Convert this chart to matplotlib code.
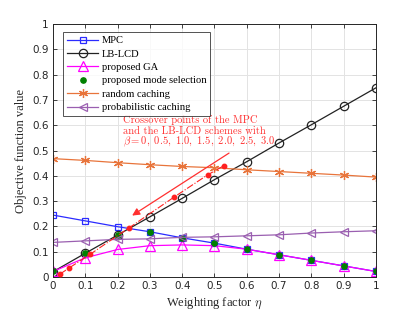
import numpy as np
import matplotlib
matplotlib.use("Agg")
import matplotlib.pyplot as plt

plt.rcParams["mathtext.fontset"] = "cm"

# -----------------------
# DATOS
# -----------------------
eta = [0, 0.1, 0.2, 0.3, 0.4, 0.5, 0.6, 0.7, 0.8, 0.9, 1.0]
mpc = [0.245, 0.222, 0.199, 0.179, 0.155, 0.134, 0.110, 0.088, 0.066, 0.044, 0.022]
lblcd = [0.021, 0.094, 0.166, 0.238, 0.311, 0.385, 0.456, 0.530, 0.602, 0.675, 0.748]
ga = [0.022, 0.076, 0.109, 0.124, 0.127, 0.124, 0.110, 0.088, 0.066, 0.044, 0.022]
modo = [0.022, 0.094, 0.166, 0.180, 0.155, 0.134, 0.110, 0.088, 0.066, 0.044, 0.022]
aleatorio = [0.468, 0.461, 0.452, 0.444, 0.437, 0.432, 0.424, 0.417, 0.410, 0.403, 0.395]
probabilistico = [0.137, 0.143, 0.149, 0.151, 0.157, 0.159, 0.163, 0.167, 0.174, 0.179, 0.183]

cruce_x = [0.022, 0.050, 0.115, 0.235, 0.376, 0.479, 0.529]
cruce_y = [0.012, 0.036, 0.090, 0.194, 0.317, 0.404, 0.440]

texto_cruce = ["Crossover points of the MPC", "and the LB-LCD schemes with"]
texto_beta = r"$\beta = 0,\ 0.5,\ 1.0,\ 1.5,\ 2.0,\ 2.5,\ 3.0$"

# -----------------------
# GRAFICO
# -----------------------
fig = plt.figure(figsize=(4.15, 3.12), dpi=100)
ax = fig.add_axes([0.1277, 0.112, 0.7783, 0.811])

ax.plot(eta, mpc, color="#2b2bff", lw=0.9, marker="s", ms=5, mfc="none", mew=0.9, label="MPC")
ax.plot(eta, lblcd, color="#222222", lw=0.9, marker="o", ms=6, mfc="none", mew=0.9, label="LB-LCD")
ax.plot(eta, ga, color="#ff00ff", lw=0.9, marker="^", ms=6.5, mfc="none", mew=0.9, label="proposed GA")
ax.plot(eta, modo, color="#008000", lw=0, marker="o", ms=3.8, label="proposed mode selection")
ax.plot(eta, aleatorio, color="#e8743b", lw=0.9, marker=(6, 2, 0), ms=6.5, mew=0.9, label="random caching")
ax.plot(eta, probabilistico, color="#9a5fb0", lw=0.9, marker="<", ms=6, mfc="none", mew=0.9,
        label="probabilistic caching")

ax.plot(cruce_x, cruce_y, color="#ff2020", lw=0.8, ls="-.", marker="o", ms=3.2, zorder=5)

ax.annotate("", xy=(0.245, 0.243), xytext=(0.545, 0.49),
            arrowprops=dict(arrowstyle="-|>", color="#ff3030", lw=0.9, mutation_scale=11,
                            shrinkA=0, shrinkB=0))
ax.text(0.218, 0.62, texto_cruce[0], color="#ff3030", fontsize=7.6, fontfamily="cmr10",
        va="center", ha="left")
ax.text(0.218, 0.577, texto_cruce[1], color="#ff3030", fontsize=7.6, fontfamily="cmr10",
        va="center", ha="left")
ax.text(0.218, 0.535, texto_beta, color="#ff3030", fontsize=7.6,
        va="center", ha="left")

ax.set_xlim(0, 1)
ax.set_ylim(0, 1)
ax.set_xticks(np.arange(0, 1.01, 0.1))
ax.set_yticks(np.arange(0, 1.01, 0.1))
etiquetas = ["0"] + [f"{v:.1f}" for v in np.arange(0.1, 0.95, 0.1)] + ["1"]
ax.set_xticklabels(etiquetas, fontfamily="DejaVu Sans", fontsize=7.5)
ax.set_yticklabels(etiquetas, fontfamily="DejaVu Sans", fontsize=7.5)
ax.tick_params(direction="in", top=True, right=True, length=3, width=0.6, colors="#262626", pad=3)
ax.grid(True, color="#e3e3e3", lw=0.7)
ax.set_axisbelow(True)
for s in ax.spines.values():
    s.set_color("#262626")
    s.set_linewidth(0.7)

ax.set_xlabel(r"Weighting factor $\eta$", fontfamily="Liberation Serif", fontsize=9, color="#262626", labelpad=3)
ax.set_ylabel("Objective function value", fontfamily="Liberation Serif", fontsize=9, color="#262626", labelpad=4)

leg = ax.legend(loc="upper left", bbox_to_anchor=(0.031, 0.968), prop={"family": "Liberation Serif", "size": 7.6},
                frameon=True, fancybox=False, edgecolor="#262626", handlelength=3.0, handletextpad=0.3,
                borderpad=0.35, labelspacing=0.38, borderaxespad=0)
leg.get_frame().set_linewidth(0.7)

plt.savefig("out.png", dpi=100)
